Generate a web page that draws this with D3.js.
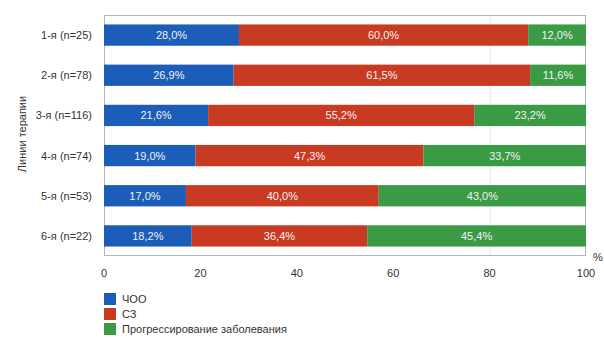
<!DOCTYPE html>
<html><head><meta charset="utf-8">
<script src="https://cdn.jsdelivr.net/npm/d3@7"></script>
<style>body{margin:0;background:#fff}svg{display:block}text{font-family:"Liberation Sans",Arial,sans-serif}</style>
</head><body><svg id="c" width="604" height="338"></svg>
<script>
const categories = ["1-я (n=25)","2-я (n=78)","3-я (n=116)","4-я (n=74)","5-я (n=53)","6-я (n=22)"];
const seriesNames = ["ЧОО","СЗ","Прогрессирование заболевания"];
const chooValues = [28.0,26.9,21.6,19.0,17.0,18.2];
const szValues = [60.0,61.5,55.2,47.3,40.0,36.4];
const pzValues = [12.0,11.6,23.2,33.7,43.0,45.4];
const xTicks = [0,20,40,60,80,100];
const gridTicks = [80];
const colors = ["#1b5db9","#c93a22","#3b9b45"];

const svg = d3.select("#c");
const m = {l:104, r:586, t:15, b:256};
const x = d3.scaleLinear().domain([0,100]).range([m.l,m.r]);
const y = d3.scaleBand().domain(categories).range([m.t,m.b]).paddingInner(0.47).paddingOuter(0.235);

// gridlines
svg.append("g").selectAll("line").data(gridTicks).join("line")
  .attr("x1",d=>x(d)+0.5).attr("x2",d=>x(d)+0.5).attr("y1",m.t).attr("y2",m.b)
  .attr("stroke","#dde6ef").attr("stroke-width",1);
// frame
svg.append("rect").attr("x",m.l+0.5).attr("y",m.t+0.5).attr("width",m.r-m.l-1).attr("height",m.b-m.t-1)
  .attr("fill","none").attr("stroke","#a9b8c6").attr("stroke-width",1);

const seriesVals = [chooValues, szValues, pzValues];
const rows = categories.map((c,i)=>({cat:c, vals:seriesVals.map(s=>s[i])}));
const segs = [];
rows.forEach(r=>{let acc=0; r.vals.forEach((v,j)=>{segs.push({cat:r.cat,s:j,x0:acc,x1:acc+v,v}); acc+=v;});});

svg.append("g").selectAll("rect").data(segs).join("rect")
  .attr("x",d=>x(d.x0)).attr("width",d=>x(d.x1)-x(d.x0))
  .attr("y",d=>y(d.cat)).attr("height",y.bandwidth())
  .attr("fill",d=>colors[d.s]);

svg.append("g").selectAll("text").data(segs).join("text")
  .attr("x",d=>(x(d.x0)+x(d.x1))/2).attr("y",d=>y(d.cat)+y.bandwidth()/2+4)
  .attr("text-anchor","middle").attr("font-size",11).attr("fill","#f2f2f2")
  .text(d=>d.v.toFixed(1).replace(".",",")+"%");

// category labels
svg.append("g").selectAll("text").data(categories).join("text")
  .attr("x",92).attr("y",d=>y(d)+y.bandwidth()/2+4).attr("text-anchor","end")
  .attr("font-size",11).attr("fill","#333").text(d=>d);

// x tick labels
svg.append("g").selectAll("text").data(xTicks).join("text")
  .attr("x",d=>x(d)).attr("y",277).attr("text-anchor","middle")
  .attr("font-size",11).attr("fill","#333").text(d=>d);
svg.append("text").attr("x",598).attr("y",261).attr("text-anchor","middle").attr("font-size",11).attr("fill","#333").text("%");

// y title
svg.append("text").attr("transform","translate(26,134) rotate(-90)").attr("text-anchor","middle")
  .attr("font-size",11).attr("fill","#333").text("Линии терапии");

// legend
const lg = svg.append("g").selectAll("g").data(seriesNames).join("g")
  .attr("transform",(d,i)=>`translate(104,${293+i*15})`);
lg.append("rect").attr("width",12).attr("height",12).attr("fill",(d,i)=>colors[i]);
lg.append("text").attr("x",18).attr("y",10).attr("font-size",11).attr("fill","#333").text(d=>d);
</script></body></html>
